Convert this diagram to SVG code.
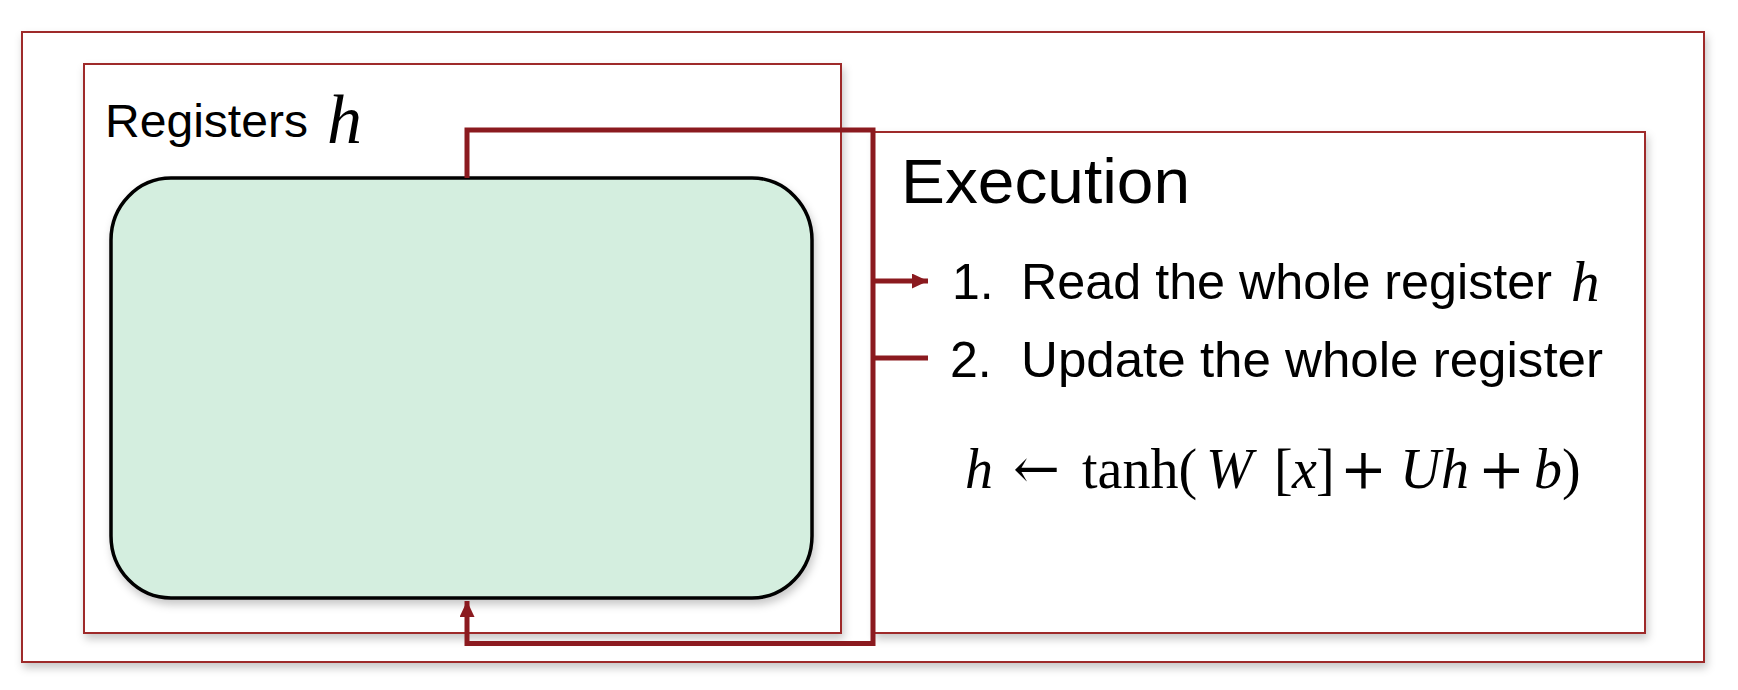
<svg xmlns="http://www.w3.org/2000/svg" width="1738" height="690" viewBox="0 0 1738 690">
<style>
.frame{fill:#ffffff;stroke:#9E2A2B;stroke-width:2;filter:url(#sh)}
.conn{fill:none;stroke:#8B1A1F;stroke-width:5;stroke-linejoin:miter}
.sans{font-family:"Liberation Sans",Arial,sans-serif;fill:#000}
.math{font-family:"Liberation Serif","Times New Roman",serif;fill:#000}
.sym{font-family:"DejaVu Serif","Liberation Serif",serif}
</style>
<defs>
<filter id="sh" x="-5%" y="-5%" width="110%" height="115%">
<feDropShadow dx="2" dy="5" stdDeviation="4" flood-color="#000" flood-opacity="0.22"/>
</filter>
<marker id="arr" markerUnits="userSpaceOnUse" markerWidth="18" markerHeight="16" refX="16" refY="7.5" orient="auto">
<path d="M0,0 L16,7.5 L0,15 z" fill="#8B1A1F"/>
</marker>
</defs>
<rect id="outer" class="frame" x="22" y="32" width="1682" height="630"/>
<g id="registers">
<rect class="frame" x="84" y="64" width="757" height="569"/>
<text class="sans" x="105" y="137" font-size="46" textLength="203" lengthAdjust="spacingAndGlyphs">Registers</text>
<text class="math" x="327" y="143" font-size="70" font-style="italic">h</text>
<rect id="register-box" x="111" y="178" width="701" height="420" rx="60" ry="62" fill="#D4EEDF" stroke="#000" stroke-width="3.5" filter="url(#sh)"/>
</g>
<g id="execution">
<rect class="frame" x="874" y="132" width="771" height="501"/>
<text class="sans" x="901" y="203" font-size="63" textLength="289" lengthAdjust="spacingAndGlyphs">Execution</text>
<text class="sans" x="952" y="299" font-size="50">1.</text>
<text class="sans" x="1021" y="299" font-size="50" textLength="531" lengthAdjust="spacingAndGlyphs">Read the whole register</text>
<text class="math" x="1571" y="301" font-size="57" font-style="italic">h</text>
<text class="sans" x="950" y="377" font-size="50">2.</text>
<text class="sans" x="1021" y="377" font-size="50" textLength="582" lengthAdjust="spacingAndGlyphs">Update the whole register</text>
<text class="math" y="488" font-size="56"><tspan x="965" font-style="italic">h</tspan><tspan class="sym" x="1013">←</tspan><tspan x="1082">tanh(</tspan><tspan x="1206" font-style="italic">W</tspan><tspan x="1274">[</tspan><tspan x="1292" font-style="italic">x</tspan><tspan x="1316">]</tspan><tspan class="sym" x="1340">+</tspan><tspan x="1400" font-style="italic">U</tspan><tspan x="1441" font-style="italic">h</tspan><tspan class="sym" x="1478">+</tspan><tspan x="1534" font-style="italic">b</tspan><tspan x="1562">)</tspan></text>
</g>
<g id="connectors">
<path class="conn" d="M467,178 V130 H873 V643.5 H467 V601" marker-end="url(#arr)"/>
<path class="conn" d="M873,281 H928" marker-end="url(#arr)"/>
<path class="conn" d="M873,358 H928"/>
</g>
</svg>
